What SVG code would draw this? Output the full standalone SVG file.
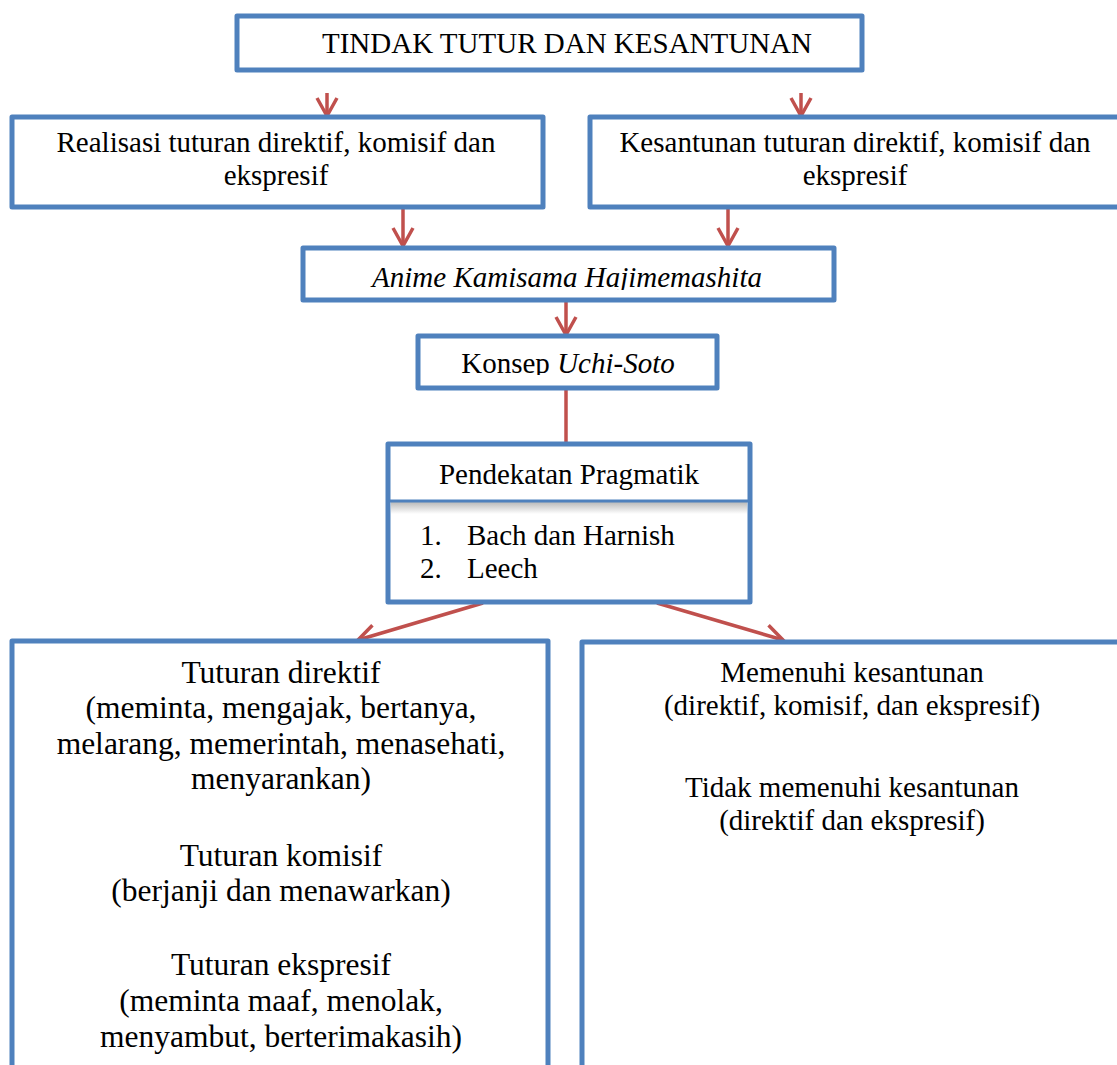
<svg xmlns="http://www.w3.org/2000/svg" width="1117" height="1065" viewBox="0 0 1117 1065">
<style>
.box{fill:#fff;stroke:#4F81BD;stroke-width:5;stroke-linejoin:round}
.t{font-family:"Liberation Serif","Times New Roman",serif;font-size:29px;fill:#000;text-anchor:middle}
.big{font-size:31.5px}
.i{font-style:italic}
.c{fill:none;stroke:#C0504D;stroke-width:3.5}
</style>
<defs>
<marker id="ah" markerUnits="userSpaceOnUse" markerWidth="24" markerHeight="24" refX="19" refY="11" orient="auto" viewBox="0 0 24 22">
<path d="M1,1 L19,11 L1,21" fill="none" stroke="#C0504D" stroke-width="3.5"/>
</marker>
<linearGradient id="sh" x1="0" y1="0" x2="0" y2="1">
<stop offset="0" stop-color="#808080" stop-opacity="0.55"/>
<stop offset="1" stop-color="#808080" stop-opacity="0"/>
</linearGradient>
<clipPath id="clipAnime"><rect x="303" y="250" width="531" height="40"/></clipPath>
<clipPath id="clipKonsep"><rect x="418" y="338" width="299" height="37"/></clipPath>
</defs>

<g id="connectors">
<path class="c" d="M327,93 V116" marker-end="url(#ah)"/>
<path class="c" d="M801,93 V116" marker-end="url(#ah)"/>
<path class="c" d="M403,207 V246" marker-end="url(#ah)"/>
<path class="c" d="M728,207 V246" marker-end="url(#ah)"/>
<path class="c" d="M566,300 V335" marker-end="url(#ah)"/>
<path class="c" d="M566,388 V443"/>
<path class="c" d="M483,603 L358,640" marker-end="url(#ah)"/>
<path class="c" d="M657,603 L783,640" marker-end="url(#ah)"/>
</g>

<g id="node-top">
<rect class="box" x="237" y="16" width="625" height="54"/>
<text class="t" x="567" y="53">TINDAK TUTUR DAN KESANTUNAN</text>
</g>

<g id="node-realisasi">
<rect class="box" x="12" y="117" width="531" height="90"/>
<text class="t" x="276" y="152">Realisasi tuturan direktif, komisif dan</text>
<text class="t" x="276" y="185">ekspresif</text>
</g>

<g id="node-kesantunan">
<rect class="box" x="590" y="117" width="535" height="90"/>
<text class="t" x="855" y="152">Kesantunan tuturan direktif, komisif dan</text>
<text class="t" x="855" y="185">ekspresif</text>
</g>

<g id="node-anime">
<rect class="box" x="303" y="248" width="531" height="52"/>
<text class="t i" x="567" y="287" clip-path="url(#clipAnime)">Anime Kamisama Hajimemashita</text>
</g>

<g id="node-konsep">
<rect class="box" x="418" y="336" width="299" height="52"/>
<text class="t" x="568" y="373" clip-path="url(#clipKonsep)">Konsep <tspan class="i">Uchi-Soto</tspan></text>
</g>

<g id="node-pendekatan">
<rect class="box" x="388" y="444" width="362" height="158"/>
<rect x="391" y="502" width="356" height="12" fill="url(#sh)"/>
<line x1="388" y1="501" x2="750" y2="501" stroke="#4F81BD" stroke-width="3"/>
<text class="t" x="569" y="484">Pendekatan Pragmatik</text>
<text class="t" x="420" y="545" style="text-anchor:start">1.</text>
<text class="t" x="467" y="545" style="text-anchor:start">Bach dan Harnish</text>
<text class="t" x="420" y="578" style="text-anchor:start">2.</text>
<text class="t" x="467" y="578" style="text-anchor:start">Leech</text>
</g>

<g id="node-tuturan">
<rect class="box" x="12" y="641" width="536" height="440"/>
<text class="t big" x="281" y="683">Tuturan direktif</text>
<text class="t big" x="281" y="718">(meminta, mengajak, bertanya,</text>
<text class="t big" x="281" y="754">melarang, memerintah, menasehati,</text>
<text class="t big" x="281" y="789">menyarankan)</text>
<text class="t big" x="281" y="866">Tuturan komisif</text>
<text class="t big" x="281" y="901">(berjanji dan menawarkan)</text>
<text class="t big" x="281" y="975">Tuturan ekspresif</text>
<text class="t big" x="281" y="1011">(meminta maaf, menolak,</text>
<text class="t big" x="281" y="1047">menyambut, berterimakasih)</text>
</g>

<g id="node-memenuhi">
<rect class="box" x="582" y="642" width="545" height="440"/>
<text class="t" x="852" y="682">Memenuhi kesantunan</text>
<text class="t" x="852" y="715">(direktif, komisif, dan ekspresif)</text>
<text class="t" x="852" y="797">Tidak memenuhi kesantunan</text>
<text class="t" x="852" y="830">(direktif dan ekspresif)</text>
</g>
</svg>
